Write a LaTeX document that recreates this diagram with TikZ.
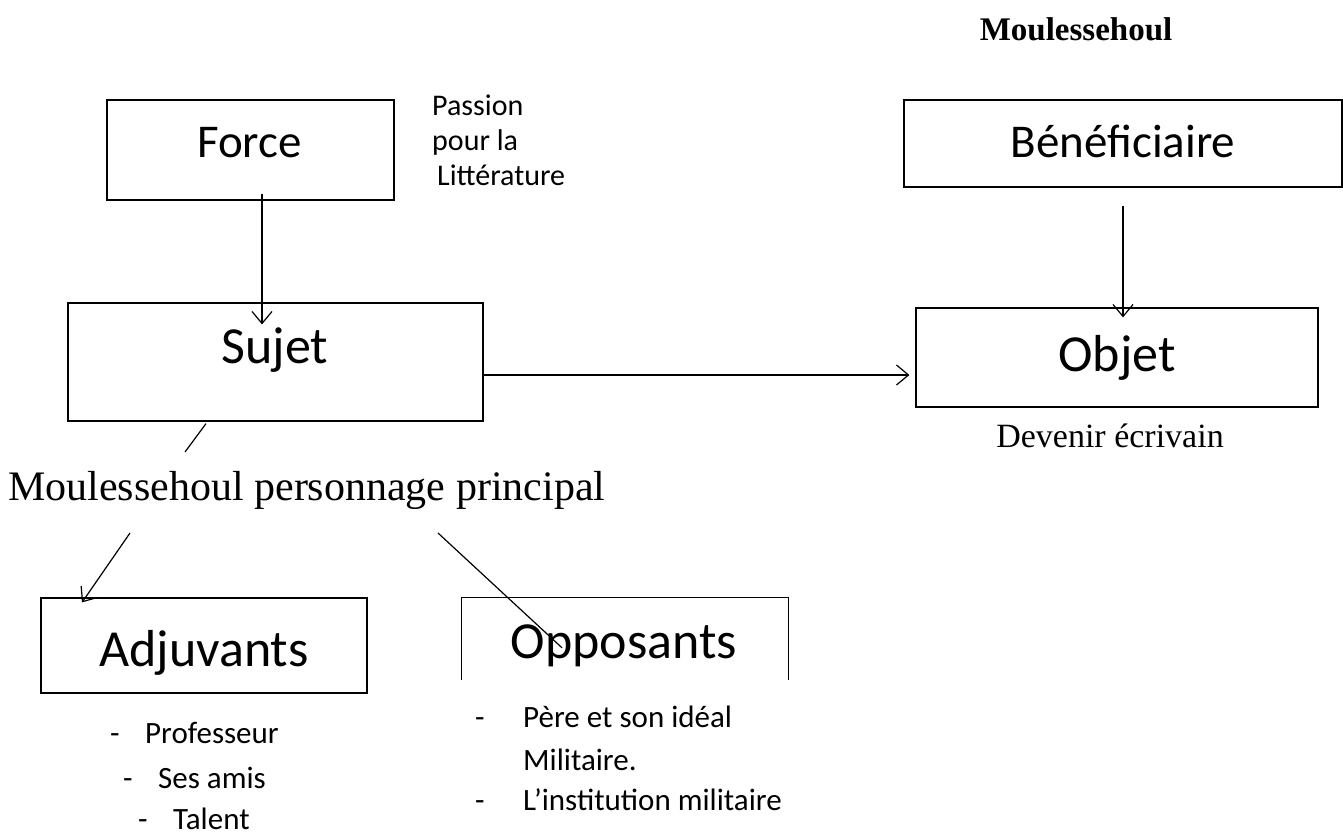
\documentclass[tikz,border=0pt]{standalone}
\usepackage{fontspec}
\setmainfont{Carlito}
\newfontfamily\timesfont{Liberation Serif}
\usetikzlibrary{arrows.meta}

\tikzset{
  box/.style={draw, line width=1.2pt, inner sep=0pt},
  boxlabel/.style={anchor=base, inner sep=0pt, font=\fontsize{47}{56}\selectfont},
  biglabel/.style={anchor=base, inner sep=0pt, font=\fontsize{52}{62}\selectfont},
  smalltext/.style={anchor=base west, inner sep=0pt, font=\fontsize{30}{35}\selectfont},
  listtext/.style={anchor=base west, inner sep=0pt, font=\fontsize{31}{37}\selectfont},
  serifbig/.style={anchor=base west, inner sep=0pt, font=\timesfont\fontsize{42}{50}\selectfont},
  serifsmall/.style={anchor=base, inner sep=0pt, font=\timesfont\fontsize{34}{40}\selectfont},
  arr/.style={line width=1.2pt, -{Straight Barb[length=12pt,width=20pt,line width=1.2pt]}},
  link/.style={line width=1.2pt}
}

\newcommand{\dashitem}[1]{\makebox[35pt][l]{-}#1}

\begin{document}
\begin{tikzpicture}[x=1pt,y=-1pt]
\useasboundingbox (0,0) rectangle (1343,836);

%title
\node[serifsmall, font=\timesfont\bfseries\fontsize{33}{40}\selectfont] (title) at (1076,40) {Moulessehoul};

%draw boxes
\node[box, minimum width=287pt, minimum height=100pt] (force) at (250.5,150) {};
\node[box, minimum width=438pt, minimum height=87pt] (benef) at (1123,143.5) {};
\node[box, minimum width=415pt, minimum height=118pt] (sujet) at (275.5,362) {};
\node[box, minimum width=402pt, minimum height=99pt] (objet) at (1117,357.5) {};
\node[box, minimum width=326pt, minimum height=95pt] (adjuv) at (204,645.5) {};
\node[inner sep=0pt, minimum width=326pt, minimum height=82pt] (oppos) at (625,639) {};
\draw[link] (oppos.south west) -- (oppos.north west) -- (oppos.north east) -- (oppos.south east);

%box labels
\node[boxlabel] (forcetxt) at (249.5,157) {Force};
\node[boxlabel] (beneftxt) at (1123,157) {Bénéficiaire};
\node[biglabel] (sujettxt) at (275,363) {Sujet};
\node[biglabel] (objettxt) at (1117,371) {Objet};
\node[biglabel] (adjuvtxt) at (204,666) {Adjuvants};
\node[biglabel] (oppostxt) at (624,658) {Opposants};

%side texts
\node[smalltext] (passion1) at (432,115) {Passion};
\node[smalltext] (passion2) at (432,150) {pour la};
\node[smalltext] (passion3) at (437,185) {Littérature};
\node[serifsmall] (devenir) at (1110,447) {Devenir écrivain};
\node[serifbig] (hero) at (8,500) {Moulessehoul personnage principal};

%lists
\node[listtext] (adj1) at (110,743) {\dashitem{Professeur}};
\node[listtext] (adj2) at (123,788) {\dashitem{Ses amis}};
\node[listtext] (adj3) at (138,829) {\dashitem{Talent}};
\node[listtext] (opp1) at (475,727) {\makebox[48pt][l]{-}Père et son idéal};
\node[listtext] (opp2) at (523,770) {Militaire.};
\node[listtext] (opp3) at (475,810) {\makebox[48pt][l]{-}L’institution militaire};

%connectors
\coordinate (forcefoot) at ([xshift=11.5pt,yshift=7pt]force.south);
\draw[arr] (forcefoot) -- ([yshift=-22pt]forcefoot |- sujet.north);
\coordinate (beneffoot) at ([yshift=-18pt]benef.south);
\draw[arr] (beneffoot) -- ([yshift=-10pt]beneffoot |- objet.north);
\coordinate (sujetout) at ([yshift=-13pt]sujet.east);
\draw[arr] (sujetout) -- ([xshift=-6pt]sujetout -| objet.west);
\draw[link] ([xshift=-69.5pt,yshift=-2pt]sujet.south) -- ([xshift=177pt,yshift=48pt]hero.base west);
\draw[arr] ([xshift=122pt,yshift=-33pt]hero.base west) -- ([xshift=-122pt,yshift=-5pt]adjuv.north);
\draw[link] ([xshift=430pt,yshift=-33pt]hero.base west) -- ([xshift=-63pt,yshift=-50pt]oppos.north);
\end{tikzpicture}
\end{document}
